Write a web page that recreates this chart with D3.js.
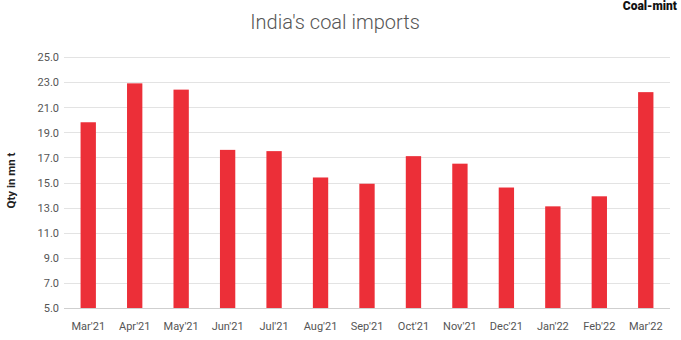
<!DOCTYPE html>
<html><head><meta charset="utf-8">
<script src="https://cdn.jsdelivr.net/npm/d3@7"></script>
<style>body{margin:0;background:#fff}svg{display:block}</style>
</head><body>
<svg id="c" width="681" height="340"></svg>
<script>
const months = ["Mar'21","Apr'21","May'21","Jun'21","Jul'21","Aug'21","Sep'21","Oct'21","Nov'21","Dec'21","Jan'22","Feb'22","Mar'22"];
const imports = [19.8,22.9,22.4,17.6,17.5,15.4,14.9,17.1,16.5,14.6,13.1,13.9,22.2];
const yTicks = [5,7,9,11,13,15,17,19,21,23,25];

(function () {
const svg = d3.select("#c");
const mL = 65, mR = 669, mT = 57, mB = 308;
const x = d3.scaleBand().domain(months).range([mL, mR]).paddingInner(0.67).paddingOuter(0.335);
const y = d3.scaleLinear().domain([5, 25]).range([mB, mT]);

svg.append("text").attr("x", 335).attr("y", 29).attr("text-anchor", "middle")
  .attr("font-family", "Roboto").attr("font-weight", 300).attr("font-size", 20)
  .attr("fill", "#555").text("India's coal imports");

svg.append("text").attr("x", 677).attr("y", 10).attr("text-anchor", "end")
  .attr("font-family", "Roboto").attr("font-weight", 900).attr("font-size", 12)
  .attr("fill", "#111").text("Coal-mint");

// grid
svg.append("g").selectAll("line").data(yTicks).join("line")
  .attr("x1", mL - 1).attr("x2", mR + 1)
  .attr("y1", d => Math.round(y(d)) + 0.5).attr("y2", d => Math.round(y(d)) + 0.5)
  .attr("stroke", d => d === 5 ? "#cfcfcf" : "#e3e3e3").attr("stroke-width", 1);

// y axis labels
const ya = svg.append("g").attr("transform", `translate(${mL - 6},0)`)
  .call(d3.axisLeft(y).tickValues(yTicks).tickFormat(d3.format(".1f")).tickSize(0).tickPadding(0));
ya.select(".domain").remove();
ya.selectAll("text").attr("font-family", "Roboto").attr("font-size", 11).attr("fill", "#555").attr("dy", "0.35em");

// x axis labels
const xa = svg.append("g").attr("transform", `translate(0,${mB})`)
  .call(d3.axisBottom(x).tickSize(0).tickPadding(14));
xa.select(".domain").remove();
xa.selectAll("text").attr("font-family", "Roboto").attr("font-size", 11).attr("fill", "#555");

// y title
svg.append("text").attr("transform", `translate(15,${(mT + mB) / 2 - 2}) rotate(-90)`)
  .attr("text-anchor", "middle").attr("font-family", "Roboto").attr("font-weight", 700)
  .attr("font-size", 11.5).attr("fill", "#222").text("Qty in mn t");

// bars
svg.append("g").selectAll("rect").data(imports).join("rect")
  .attr("x", (d, i) => x(months[i])).attr("width", x.bandwidth())
  .attr("y", d => y(d)).attr("height", d => y(5) - y(d))
  .attr("fill", "#ec2f38");
})();
</script>
</body></html>
